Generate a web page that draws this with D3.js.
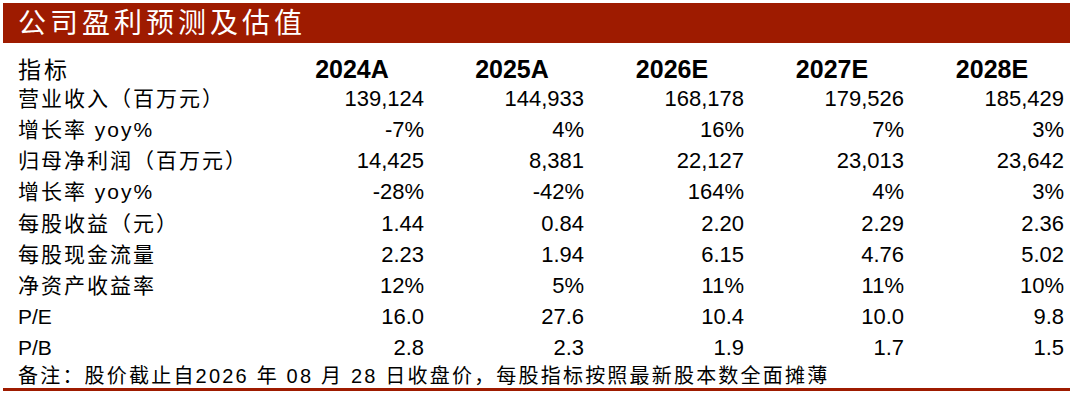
<!DOCTYPE html><html><head><meta charset="utf-8"><script src="https://cdn.jsdelivr.net/npm/d3@7"></script>
<style>body{margin:0;background:#fff}</style></head><body><svg id="c" width="1080" height="400"></svg>
<script>
const title="公司盈利预测及估值";
const headerLabel="指标";
const years=["2024A","2025A","2026E","2027E","2028E"];
const rowLabels=["营业收入（百万元）","增长率 yoy%","归母净利润（百万元）","增长率 yoy%","每股收益（元）","每股现金流量","净资产收益率","P/E","P/B"];
const revenue=["139,124","144,933","168,178","179,526","185,429"];
const revGrowth=["-7%","4%","16%","7%","3%"];
const netProfit=["14,425","8,381","22,127","23,013","23,642"];
const npGrowth=["-28%","-42%","164%","4%","3%"];
const eps=["1.44","0.84","2.20","2.29","2.36"];
const cfps=["2.23","1.94","6.15","4.76","5.02"];
const roe=["12%","5%","11%","11%","10%"];
const pe=["16.0","27.6","10.4","10.0","9.8"];
const pb=["2.8","2.3","1.9","1.7","1.5"];
const note="备注：股价截止自2026 年 08 月 28 日收盘价，每股指标按照最新股本数全面摊薄";
const rows=[revenue,revGrowth,netProfit,npGrowth,eps,cfps,roe,pe,pb];
const svg=d3.select("#c");
const F="'Liberation Sans',Arial,'Noto Sans CJK SC',sans-serif";
const x=d3.scaleBand().domain(years).range([272,1072]);
const y=d3.scaleLinear().domain([0,8]).range([106,355]);
svg.append("rect").attr("x",3).attr("y",3).attr("width",1067).attr("height",40).attr("fill","#9e1b00");
svg.append("text").attr("x",18).attr("y",33).attr("fill","#fff").attr("font-size",28).attr("letter-spacing",4).attr("font-family","'Noto Sans CJK SC'").text(title);
svg.append("text").attr("x",18).attr("y",78).attr("font-size",23).attr("letter-spacing",3).attr("font-family",F).text(headerLabel);
svg.selectAll(".h").data(years).join("text").attr("x",d=>x(d)+x.bandwidth()/2).attr("y",78).attr("text-anchor","middle").attr("font-size",25).attr("font-weight","bold").attr("font-family",F).text(d=>d);
rowLabels.forEach((l,i)=>{
 svg.append("text").attr("x",18).attr("y",y(i)).attr("font-size",21).attr("font-family",F).attr("letter-spacing",l.startsWith("P/")?0:2).text(l);
 svg.selectAll(".r"+i).data(rows[i]).join("text").attr("x",(d,j)=>x(years[j])+x.bandwidth()-8).attr("y",y(i)).attr("text-anchor","end").attr("font-size",22).attr("font-family",F).text(d=>d);
});
svg.append("text").attr("x",18).attr("y",383).attr("font-size",20).attr("font-family",F).attr("letter-spacing",2.2).text(note);
svg.append("rect").attr("x",3).attr("y",388).attr("width",1067).attr("height",3).attr("fill","#9e1b00");
</script></body></html>
